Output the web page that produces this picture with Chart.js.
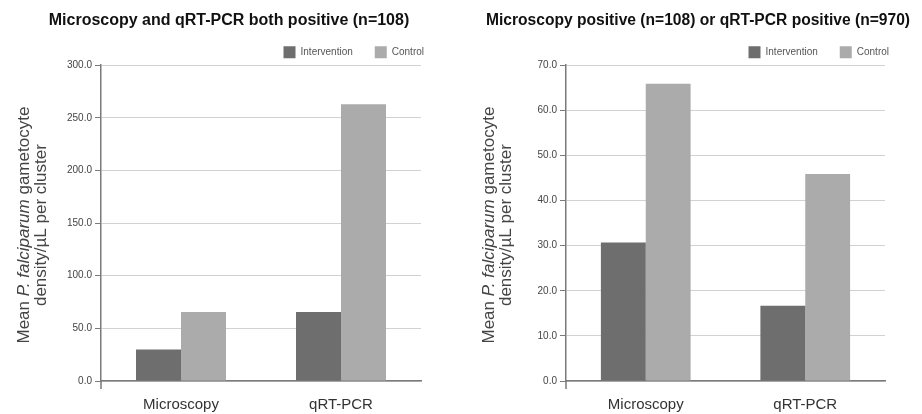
<!DOCTYPE html>
<html>
<head>
<meta charset="utf-8">
<script src="https://cdn.jsdelivr.net/npm/chart.js@4.4.1/dist/chart.umd.min.js"></script>
<style>
  html, body { margin:0; padding:0; background:#fff; }
  .wrap { display:flex; width:922px; height:414px; }
  .box { position:relative; width:461px; height:414px; }
</style>
</head>
<body>
<div class="wrap">
  <div class="box"><canvas id="left"></canvas></div>
  <div class="box"><canvas id="right"></canvas></div>
</div>
<script>
// data
const categories = ['Microscopy', 'qRT-PCR'];
const seriesNames = ['Intervention', 'Control'];

const bothTitle = 'Microscopy and qRT-PCR both positive (n=108)';
const bothIntervention = [30.0, 65.5];
const bothControl = [65.5, 263.0];
const bothMax = 300;
const bothStep = 50;

const eitherTitle = 'Microscopy positive (n=108) or qRT-PCR positive (n=970)';
const eitherIntervention = [30.7, 16.7];
const eitherControl = [65.9, 45.9];
const eitherMax = 70;
const eitherStep = 10;

const FONT = '"Liberation Sans", Arial, Helvetica, sans-serif';
const colors = ['#6e6e6e', '#ababab'];
const LEGEND_PAD = 22;

// y axis title with italic species name, drawn rotated left of the axis
const yLabelPlugin = {
  id: 'yLabel',
  afterLayout(chart, args, opts){
    // push legend to the right so it lines up past the plot edge like the original
    const lg = chart.legend;
    if(lg && opts.legendEnd){
      const d = opts.legendEnd + LEGEND_PAD - lg.right;
      lg.left += d; lg.right += d;
    }
    // title centred over the whole panel rather than the padded area
    const tt = chart.titleBlock;
    if(tt && opts.titleCenter){
      const d = opts.titleCenter - (tt.left + tt.right) / 2;
      tt.left += d; tt.right += d;
    }
  },
  afterDraw(chart){
    const ctx = chart.ctx;
    const area = chart.chartArea;
    const cy = (area.top + area.bottom) / 2 + 2;
    const lines = [
      [['Mean ', false], ['P. falciparum', true], [' gametocyte', false]],
      [['density/\u00b5L per cluster', false]]
    ];
    const xs = [area.left - 77, area.left - 60];
    ctx.save();
    ctx.fillStyle = '#444';
    ctx.textBaseline = 'middle';
    lines.forEach((segs, i) => {
      let total = 0;
      segs.forEach(s => {
        ctx.font = (s[1] ? 'italic ' : '') + '17px ' + FONT;
        total += ctx.measureText(s[0]).width;
      });
      ctx.save();
      ctx.translate(xs[i], cy);
      ctx.rotate(-Math.PI/2);
      let x = -total/2;
      segs.forEach(s => {
        ctx.font = (s[1] ? 'italic ' : '') + '17px ' + FONT;
        ctx.fillText(s[0], x, 0);
        x += ctx.measureText(s[0]).width;
      });
      ctx.restore();
    });
    // axis line runs a little below zero
    ctx.strokeStyle = '#7a7a7a';
    ctx.lineWidth = 1.5;
    ctx.beginPath();
    ctx.moveTo(area.left, area.bottom);
    ctx.lineTo(area.left, area.bottom + 8);
    ctx.stroke();
    ctx.restore();
  }
};

function makeChart(id, title, inter, ctrl, max, step, axisX, padRight, legendEnd, titleCenter){
  const ctx = document.getElementById(id).getContext('2d');
  return new Chart(ctx, {
    type: 'bar',
    data: {
      labels: categories,
      datasets: [
        {label: seriesNames[0], data: inter, backgroundColor: colors[0]},
        {label: seriesNames[1], data: ctrl, backgroundColor: colors[1]}
      ]
    },
    options: {
      responsive: true,
      maintainAspectRatio: false,
      animation: false,
      categoryPercentage: 0.5625,
      barPercentage: 1,
      layout: {padding: {left: 0, right: padRight, top: 0, bottom: 0}},
      plugins: {
        title: {
          display: true, text: title, color: '#111',
          font: {family: FONT, size: 16, weight: 'bold'},
          padding: {top: 11, bottom: -6}
        },
        legend: {
          position: 'top', align: 'end', maxHeight: 41,
          labels: {boxWidth: 12, boxHeight: 12, color: '#555', padding: LEGEND_PAD,
                   font: {family: FONT, size: 10}}
        },
        yLabel: {legendEnd: legendEnd, titleCenter: titleCenter},
        tooltip: {enabled: false}
      },
      scales: {
        x: {
          grid: {display: false},
          border: {display: true, color: '#7a7a7a', width: 1.5},
          ticks: {color: '#333', font: {family: FONT, size: 15}, padding: 7},
          afterFit: s => { s.height = 33; }
        },
        y: {
          min: 0, max: max,
          ticks: {stepSize: step, color: '#444', padding: 3,
                  font: {family: FONT, size: 10},
                  callback: v => v.toFixed(1)},
          grid: {color: '#d2d2d2', lineWidth: 1, tickLength: 6, tickColor: '#7a7a7a'},
          border: {color: '#7a7a7a', width: 1.5},
          afterFit: s => { s.width = axisX; }
        }
      }
    },
    plugins: [yLabelPlugin]
  });
}

makeChart('left', bothTitle, bothIntervention, bothControl, bothMax, bothStep, 101, 40, 424, 229);
makeChart('right', eitherTitle, eitherIntervention, eitherControl, eitherMax, eitherStep, 105, 37, 428, 237);
</script>
</body>
</html>
